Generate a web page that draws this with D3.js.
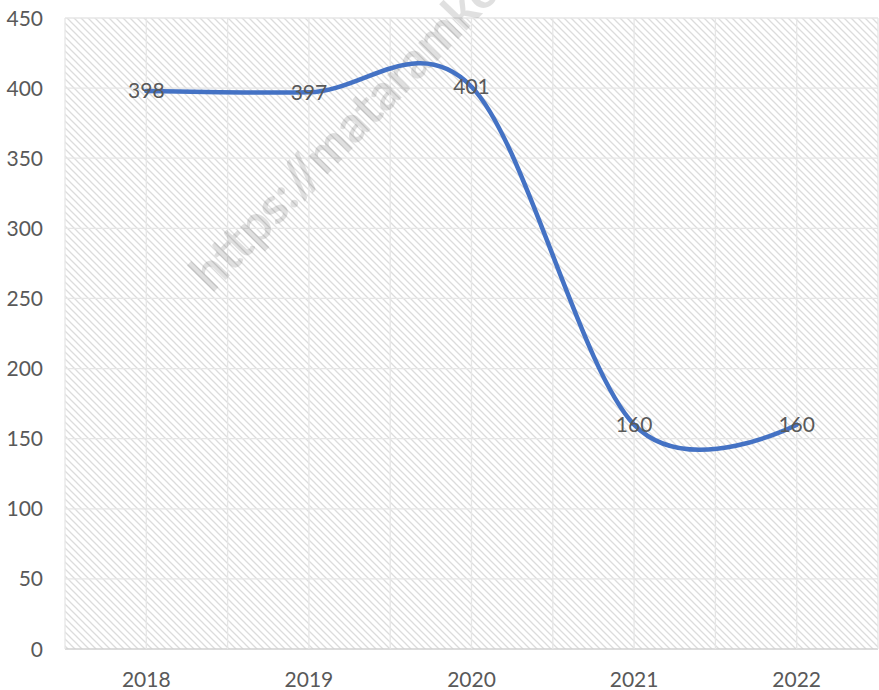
<!DOCTYPE html>
<html><head><meta charset="utf-8">
<script src="https://cdn.jsdelivr.net/npm/d3@7"></script>
<style>body{margin:0;background:#fff}svg{display:block}</style>
</head><body><svg id="c" width="879" height="690"></svg>
<script>
const categories = ["2018","2019","2020","2021","2022"];
const values = [398, 397, 401, 160, 160];
const yTicks = [0,50,100,150,200,250,300,350,400,450];
const watermark = "https://mataramkota.bps.go.id";

(function(){
const svg = d3.select("#c");
const pL = 65, pR = 878, pT = 18, pB = 649;
const font = "Lato, 'Open Sans', sans-serif";
const textColor = "#595959";

const x = d3.scalePoint().domain(categories).range([pL, pR]).padding(0.5);
const step = x.step();
const y = d3.scaleLinear().domain([0,450]).range([pB, pT]);

const defs = svg.append("defs");
const pat = defs.append("pattern").attr("id","hatch").attr("patternUnits","userSpaceOnUse")
  .attr("width",7).attr("height",7);
pat.append("path").attr("d","M-1,-1 L8,8 M-1,6 L1,8 M6,-1 L8,1")
  .attr("stroke","#dcdcdc").attr("stroke-width",1.3).attr("fill","none");

svg.append("rect").attr("x",pL).attr("y",pT).attr("width",pR-pL).attr("height",pB-pT)
  .attr("fill","url(#hatch)");

svg.append("g").selectAll("line").data(yTicks).join("line")
  .attr("x1",pL).attr("x2",pR).attr("y1",d=>y(d)).attr("y2",d=>y(d))
  .attr("stroke",d=>d===0?"#d0d0d0":"#e6e6e6").attr("stroke-width",d=>d===0?1.5:1.3);

const vlines = [];
categories.forEach(c=>{ vlines.push(x(c)-step/2); vlines.push(x(c)); });
vlines.push(x(categories[categories.length-1])+step/2);
svg.append("g").selectAll("line").data(vlines).join("line")
  .attr("x1",d=>d).attr("x2",d=>d).attr("y1",pT).attr("y2",pB)
  .attr("stroke","#e6e6e6").attr("stroke-width",1.3);

svg.append("text").attr("transform","translate(212,294) rotate(-46)")
  .attr("font-family","Lato, sans-serif").attr("font-weight","bold").attr("font-size",51)
  .attr("fill","#000").attr("fill-opacity",0.12).text(watermark);

svg.append("g").selectAll("text").data(yTicks).join("text")
  .attr("x",43).attr("y",d=>y(d)).attr("dy","0.36em").attr("text-anchor","end")
  .attr("font-family",font).attr("font-size",21).attr("fill",textColor).text(d=>d);

svg.append("g").selectAll("text").data(categories).join("text")
  .attr("x",d=>x(d)).attr("y",687).attr("text-anchor","middle")
  .attr("font-family",font).attr("font-size",21).attr("fill",textColor).text(d=>d);

const data = categories.map((c,i)=>({c, v: values[i]}));
const line = d3.line().x(d=>x(d.c)).y(d=>y(d.v)).curve(d3.curveCardinal.tension(0));
svg.append("path").datum(data).attr("d",line).attr("fill","none")
  .attr("stroke","#4472C4").attr("stroke-width",4.5).attr("stroke-linecap","round");

svg.append("g").selectAll("text").data(data).join("text")
  .attr("x",d=>x(d.c)).attr("y",d=>y(d.v)).attr("dy","0.36em").attr("text-anchor","middle")
  .attr("font-family",font).attr("font-size",21).attr("fill",textColor).text(d=>d.v);
})();
</script></body></html>
